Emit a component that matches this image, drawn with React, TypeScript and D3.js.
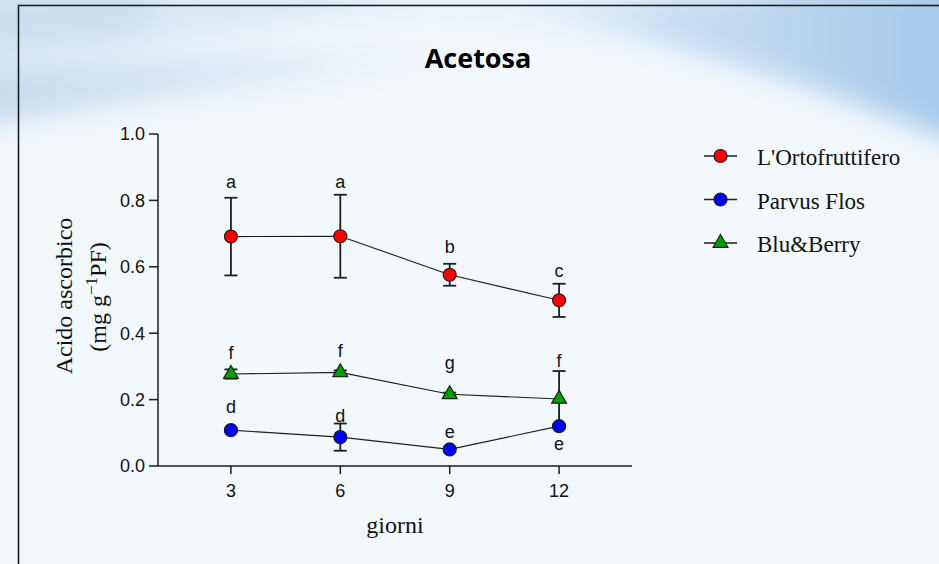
import React from "react";
import * as d3 from "d3";

// Days of sampling
const days = [3, 6, 9, 12];

// Series (mean ascorbic acid, mg g-1 PF) and standard deviations
const seriesNames = ["L'Ortofruttifero", "Parvus Flos", "Blu&Berry"];
const ortoMean = [0.691, 0.692, 0.576, 0.499];
const ortoSd = [0.117, 0.125, 0.033, 0.05];
const parvusMean = [0.108, 0.087, 0.05, 0.12];
const parvusSd = [0.005, 0.041, 0.008, 0.006];
const bluMean = [0.277, 0.282, 0.216, 0.202];
const bluSd = [0.014, 0.006, 0.005, 0.084];

// Significance letters and the value where each sits (baseline)
const ortoLetters = ["a", "a", "b", "c"];
const ortoLetterAt = [0.837, 0.837, 0.641, 0.569];
const parvusLetters = ["d", "d", "e", "e"];
const parvusLetterAt = [0.161, 0.133, 0.085, 0.048];
const bluLetters = ["f", "f", "g", "f"];
const bluLetterAt = [0.322, 0.328, 0.293, 0.299];

const yTicks = [0.0, 0.2, 0.4, 0.6, 0.8, 1.0];
const xTicks = [3, 6, 9, 12];

const W = 939;
const H = 564;

const INK = "#1e1e1e";
const SANS = "'Liberation Sans', Arial, sans-serif";
const SERIF = "'Liberation Serif', 'Times New Roman', serif";

type Series = {
  name: string;
  mean: number[];
  sd: number[];
  letters: string[];
  letterAt: number[];
  color: string;
  shape: "circle" | "triangle";
};

const series: Series[] = [
  { name: seriesNames[0], mean: ortoMean, sd: ortoSd, letters: ortoLetters, letterAt: ortoLetterAt, color: "#ff0000", shape: "circle" },
  { name: seriesNames[1], mean: parvusMean, sd: parvusSd, letters: parvusLetters, letterAt: parvusLetterAt, color: "#0000ff", shape: "circle" },
  { name: seriesNames[2], mean: bluMean, sd: bluSd, letters: bluLetters, letterAt: bluLetterAt, color: "#00a000", shape: "triangle" },
];

function Marker({ cx, cy, shape, color }: { cx: number; cy: number; shape: string; color: string }) {
  if (shape === "triangle") {
    const sym = d3.symbol().type(d3.symbolTriangle).size(95)();
    return <path d={sym || ""} transform={`translate(${cx},${cy})`} fill={color} stroke={INK} strokeWidth={1.2} />;
  }
  return <circle cx={cx} cy={cy} r={6.5} fill={color} stroke={INK} strokeWidth={1.2} />;
}

export default function App() {
  const x = d3.scaleLinear().domain([1, 14]).range([158, 632]);
  const y = d3.scaleLinear().domain([0, 1]).range([466, 134]);
  const line = d3
    .line<number>()
    .x((_, i) => x(days[i]))
    .y((d) => y(d));

  const capHalf = 6.5;

  return (
    <div style={{ position: "fixed", left: 0, top: 0 }}>
      <svg width={W} height={H} style={{ display: "block" }}>
        <defs>
          <filter id="soft" x="-20%" y="-50%" width="140%" height="200%">
            <feGaussianBlur stdDeviation="14" />
          </filter>
          <linearGradient id="rightWash" x1="0" y1="0" x2="1" y2="0">
            <stop offset="0" stopColor="#d6e6f4" stopOpacity="0" />
            <stop offset="0.45" stopColor="#bcd7ef" stopOpacity="0.8" />
            <stop offset="1" stopColor="#9fc6ea" stopOpacity="1" />
          </linearGradient>
          <linearGradient id="leftWash" x1="0" y1="0" x2="1" y2="0">
            <stop offset="0" stopColor="#c2d7ea" stopOpacity="1" />
            <stop offset="0.6" stopColor="#d4e3f1" stopOpacity="0.6" />
            <stop offset="1" stopColor="#e6eff8" stopOpacity="0" />
          </linearGradient>
        </defs>

        {/* page background with soft blue waves at the top */}
        <rect x={0} y={0} width={W} height={H} fill="#f3f8fc" />
        <g filter="url(#soft)">
          <path d="M-40,-20 L560,-20 C420,10 240,30 -40,60 Z" fill="#c9dcee" opacity={0.9} />
          <path d="M-40,70 C150,55 350,40 520,50 C380,75 200,95 -40,128 Z" fill="url(#leftWash)" />
          <path d="M420,-20 L980,-20 L980,150 C880,115 780,72 640,40 C560,25 490,20 420,30 Z" fill="url(#rightWash)" />
          <path d="M150,30 C350,10 600,5 760,-5 L760,-20 L150,-20 Z" fill="#e8f1f9" opacity={0.6} />
        </g>

        {/* frame */}
        <rect x={18.5} y={5.5} width={1000} height={1000} fill="none" stroke={INK} strokeWidth={1.6} />

        {/* title */}
        <text x={478} y={68} textAnchor="middle" fontFamily="'Open Sans', sans-serif" fontWeight={700} fontSize={27} fill="#000">
          Acetosa
        </text>

        {/* y axis */}
        <line x1={158} x2={158} y1={y(1)} y2={y(0)} stroke={INK} strokeWidth={1.5} />
        {yTicks.map((t) => (
          <g key={`yt${t}`}>
            <line x1={149} x2={158} y1={y(t)} y2={y(t)} stroke={INK} strokeWidth={1.5} />
            <text x={145} y={y(t)} dy="0.36em" textAnchor="end" fontFamily={SANS} fontSize={18} fill="#111">
              {t.toFixed(1)}
            </text>
          </g>
        ))}

        {/* x axis */}
        <line x1={x(1)} x2={x(14)} y1={y(0)} y2={y(0)} stroke={INK} strokeWidth={1.5} />
        {xTicks.map((t) => (
          <g key={`xt${t}`}>
            <line x1={x(t)} x2={x(t)} y1={y(0)} y2={y(0) + 8} stroke={INK} strokeWidth={1.5} />
            <text x={x(t)} y={497} textAnchor="middle" fontFamily={SANS} fontSize={18} fill="#111">
              {t}
            </text>
          </g>
        ))}

        {/* axis titles */}
        <text x={395} y={533} textAnchor="middle" fontFamily={SERIF} fontSize={24} fill="#111">
          giorni
        </text>
        <g fontFamily={SERIF} fontSize={24} fill="#111">
          <text transform="translate(72,296) rotate(-90)" textAnchor="middle">
            Acido ascorbico
          </text>
          <text transform="translate(106,297) rotate(-90)" textAnchor="middle">
            (mg g
            <tspan dy="-9" fontSize={17}>−1</tspan>
            <tspan dy="9">PF)</tspan>
          </text>
        </g>

        {/* connecting lines */}
        {series.map((s) => (
          <path key={`l${s.name}`} d={line(s.mean) || ""} fill="none" stroke={INK} strokeWidth={1.1} />
        ))}

        {/* error bars */}
        {series.map((s) =>
          s.mean.map((m, i) => {
            const cx = x(days[i]);
            const top = y(m + s.sd[i]);
            const bot = y(m - s.sd[i]);
            return (
              <g key={`e${s.name}${i}`} stroke={INK} strokeWidth={1.8}>
                <line x1={cx} x2={cx} y1={top} y2={bot} />
                <line x1={cx - capHalf} x2={cx + capHalf} y1={top} y2={top} />
                <line x1={cx - capHalf} x2={cx + capHalf} y1={bot} y2={bot} />
              </g>
            );
          })
        )}

        {/* markers */}
        {series.map((s) =>
          s.mean.map((m, i) => (
            <Marker key={`m${s.name}${i}`} cx={x(days[i])} cy={y(m)} shape={s.shape} color={s.color} />
          ))
        )}

        {/* significance letters */}
        {series.map((s) =>
          s.letters.map((l, i) => (
            <text
              key={`t${s.name}${i}`}
              x={x(days[i])}
              y={y(s.letterAt[i])}
              textAnchor="middle"
              fontFamily={SANS}
              fontSize={18}
              fill="#111"
            >
              {l}
            </text>
          ))
        )}

        {/* legend */}
        {series.map((s, i) => {
          const ly = 156 + i * 43.5;
          return (
            <g key={`lg${s.name}`}>
              <line x1={704} x2={737} y1={ly} y2={ly} stroke={INK} strokeWidth={1.3} />
              <Marker cx={720.5} cy={ly} shape={s.shape} color={s.color} />
              <text x={757} y={ly + 9} fontFamily={SERIF} fontSize={23} fill="#111">
                {s.name}
              </text>
            </g>
          );
        })}
      </svg>
    </div>
  );
}
